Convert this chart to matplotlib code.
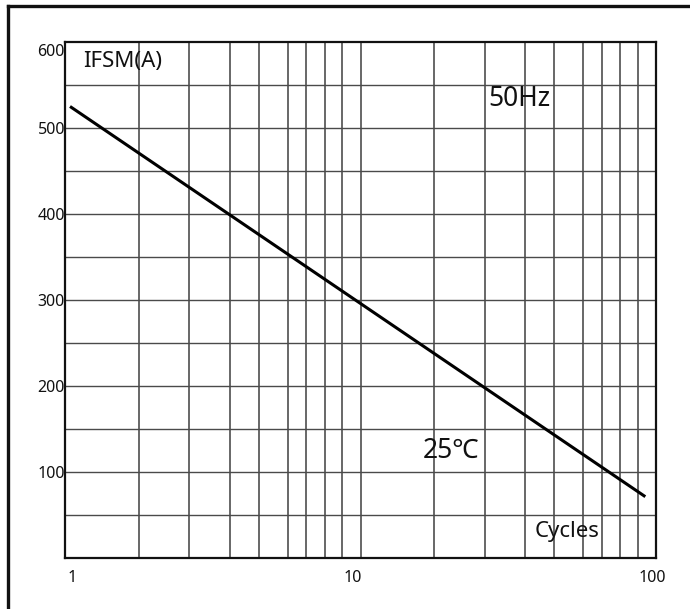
import matplotlib
matplotlib.use("Agg")
import matplotlib.pyplot as plt
from matplotlib.lines import Line2D
from matplotlib.transforms import ScaledTranslation

plt.rcParams['font.family'] = ['Noto Sans', 'DejaVu Sans']

# Data
cycles = [1.04, 92.0]
ifsm = [525, 71]
x_ticks = [1, 10, 100]
x_tick_labels = ["1", "10", "100"]
y_ticks = [100, 200, 300, 400, 500, 600]
y_tick_labels = ["100", "200", "300", "400", "500", "600"]
y_grid = list(range(50, 600, 50))
# vertical grid positions within each decade, as drawn in the original chart (fraction of decade)
decade_grid_frac = [0.249, 0.4205, 0.557, 0.655, 0.754, 0.817, 0.879, 0.939]

fig = plt.figure(figsize=(6.9, 6.09), dpi=100)
ax = fig.add_axes([65/690, 1-557.7/609, (656-65)/690, (557.7-42)/609])

ax.set_xscale('log')
ax.set_xlim(1, 100)
ax.set_ylim(0, 600)

vcol = '#5c5c5c'
hcol = '#4a4a4a'
for d in range(2):
    for f in decade_grid_frac:
        ax.plot([(d + f) / 2] * 2, [0, 1], color=vcol, lw=1.3, zorder=1,
                transform=ax.transAxes)
ax.axvline(10, color=vcol, lw=1.3, zorder=1)
for yv in y_grid:
    ax.axhline(yv, color=hcol, lw=1.0, zorder=1)

ax.plot(cycles, ifsm, color='black', lw=2.2, solid_capstyle='butt', zorder=3)

ax.set_xticks(x_ticks)
ax.set_xticklabels(x_tick_labels)
ax.set_xticks([], minor=True)
ax.set_yticks(y_ticks)
ax.set_yticklabels(y_tick_labels)
ax.tick_params(axis='both', which='both', length=0, labelsize=11.5, colors='#111111')
ax.tick_params(axis='x', pad=9)
ax.tick_params(axis='y', pad=0)

for s in ax.spines.values():
    s.set_linewidth(1.6)
    s.set_color('#111111')
    s.set_zorder(4)

# label offsets
xoffs = [7, -8, -4]
for lab, dx in zip(ax.get_xticklabels(), xoffs):
    lab.set_transform(lab.get_transform() + ScaledTranslation(dx/100, 0, fig.dpi_scale_trans))
ylabs = ax.get_yticklabels()
ylabs[-1].set_transform(ylabs[-1].get_transform() + ScaledTranslation(0, -8/100, fig.dpi_scale_trans))

ax.text(1.15, 577, "IFSM(A)", fontsize=16, va='center', ha='left', color='#111111', zorder=5)
ax.text(27, 534, "50Hz", fontsize=19, va='center', ha='left', color='#111111', zorder=5)
ax.text(16.3, 124, "25℃", fontsize=19, va='center', ha='left', color='#111111', zorder=5)
ax.text(38.9, 31, "Cycles", fontsize=16, va='center', ha='left', color='#111111', zorder=5)

# outer frame (left and top)
fig.add_artist(Line2D([7.5/690, 7.5/690], [0, 1-6/609], color='#111111', lw=2.4,
                      transform=fig.transFigure, solid_capstyle='projecting'))
fig.add_artist(Line2D([7.5/690, 1], [1-6/609, 1-6/609], color='#111111', lw=2.4,
                      transform=fig.transFigure, solid_capstyle='projecting'))

fig.savefig("out.png", dpi=100)
